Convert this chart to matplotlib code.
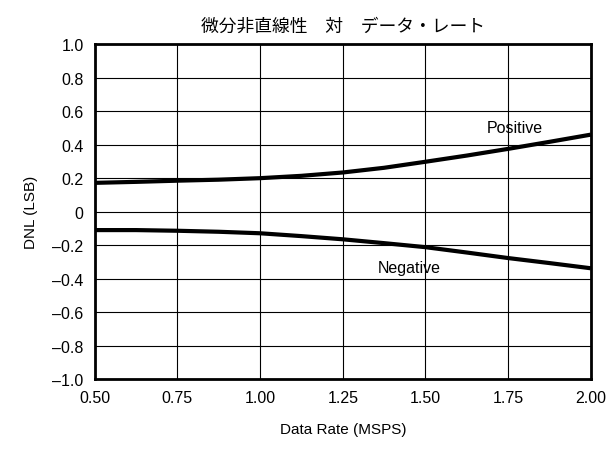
import numpy as np
import matplotlib
matplotlib.use("Agg")
import matplotlib.pyplot as plt

plt.rcParams['font.family'] = ['Liberation Sans', 'Noto Sans CJK JP', 'DejaVu Sans']

# データ
rate = [0.500, 0.625, 0.750, 0.875, 1.000, 1.125, 1.250,
        1.375, 1.500, 1.625, 1.750, 1.875, 2.000]
dnl_pos = [0.172, 0.178, 0.185, 0.191, 0.200, 0.214, 0.234,
           0.262, 0.298, 0.335, 0.375, 0.417, 0.460]
dnl_neg = [-0.110, -0.110, -0.114, -0.120, -0.129, -0.146, -0.165,
           -0.188, -0.212, -0.244, -0.277, -0.307, -0.338]
x_ticks = [0.50, 0.75, 1.00, 1.25, 1.50, 1.75, 2.00]
y_ticks = [-1.0, -0.8, -0.6, -0.4, -0.2, 0, 0.2, 0.4, 0.6, 0.8, 1.0]
y_labels = ["\u20131.0", "\u20130.8", "\u20130.6", "\u20130.4", "\u20130.2", "0",
            "0.2", "0.4", "0.6", "0.8", "1.0"]

fig = plt.figure(figsize=(6.11, 4.52), dpi=100)
ax = fig.add_axes([0.155, 0.159, 0.812, 0.741])

ax.plot(rate, dnl_pos, color='black', lw=3, solid_capstyle='butt')
ax.plot(rate, dnl_neg, color='black', lw=3, solid_capstyle='butt')

ax.set_xlim(0.5, 2.0)
ax.set_ylim(-1.0, 1.0)
ax.set_xticks(x_ticks)
ax.set_xticklabels([f"{v:.2f}" for v in x_ticks])
ax.set_yticks(y_ticks)
ax.set_yticklabels(y_labels)
ax.grid(True, color='black', lw=0.8)
ax.tick_params(length=0, labelsize=11.5, pad=8)
for s in ax.spines.values():
    s.set_linewidth(2)

ax.text(1.77, 0.50, "Positive", fontsize=11.5, ha='center', va='center')
ax.text(1.45, -0.335, "Negative", fontsize=11.5, ha='center', va='center')

ax.set_xlabel("Data Rate (MSPS)", fontsize=11, labelpad=12)
ax.set_ylabel("DNL (LSB)", fontsize=11, labelpad=10)
ax.set_title("微分非直線性\u3000対\u3000データ・レート", fontsize=12.8,
             family=['Noto Sans CJK JP', 'DejaVu Sans'], pad=10)

fig.savefig("out.png", dpi=100)
